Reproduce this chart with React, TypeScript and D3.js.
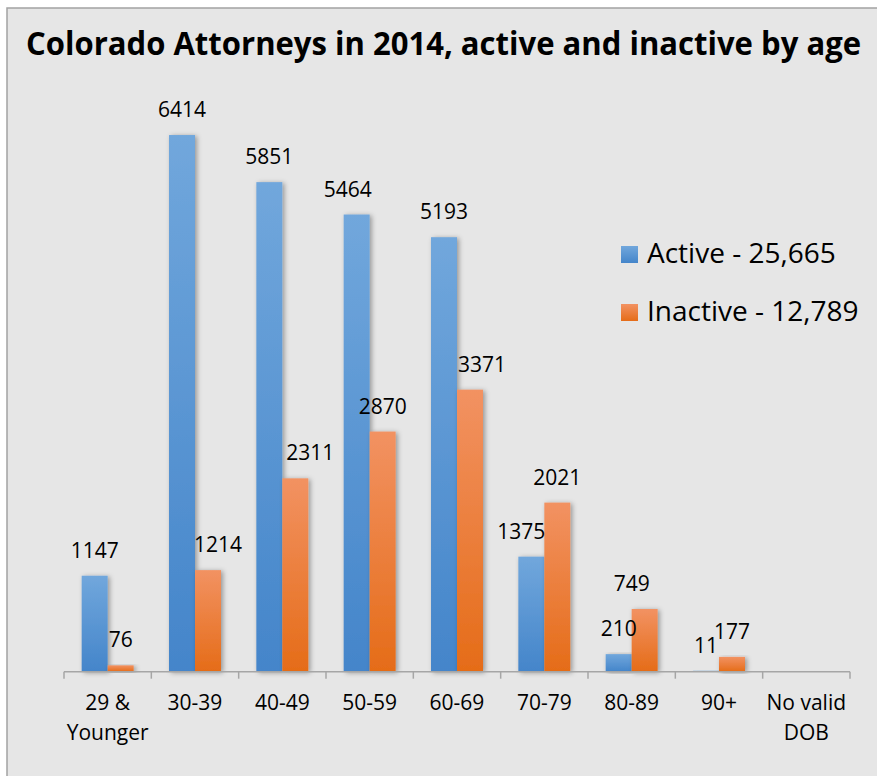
import React, { useEffect } from "react";
import * as d3 from "d3";

// chart data
const ageGroups = ["29 &\nYounger", "30-39", "40-49", "50-59", "60-69", "70-79", "80-89", "90+", "No valid\nDOB"];
const activeCounts = [1147, 6414, 5851, 5464, 5193, 1375, 210, 11, null];
const inactiveCounts = [76, 1214, 2311, 2870, 3371, 2021, 749, 177, null];
const seriesNames = ["Active - 25,665", "Inactive - 12,789"];
const chartTitle = "Colorado Attorneys in 2014, active and inactive by age";

// hand-moved data labels (as in the original sheet)
const activeLabelShift = [0, 0, 0, -9, 0, -10, 0, 0, 0];
const inactiveLabelShift = [0, 10, 15, 0, 12, 0, -13, 0, 0];

const W = 877;
const H = 776;
const font = "'Open Sans', 'Liberation Sans', sans-serif";

export default function App() {
  useEffect(() => {
    document.body.style.margin = "0";
  }, []);

  const x0 = d3.scaleBand<string>().domain(ageGroups).range([64, 850]);
  const x1 = d3
    .scaleBand<string>()
    .domain(["active", "inactive"])
    .range([0, x0.bandwidth()])
    .paddingOuter(0.68);
  const y = d3.scaleLinear().domain([0, 7000]).range([671.7, 86]);

  const series = [
    { key: "active", values: activeCounts, shift: activeLabelShift, fill: "url(#gBlue)" },
    { key: "inactive", values: inactiveCounts, shift: inactiveLabelShift, fill: "url(#gOrange)" },
  ];

  const boundaries = d3.range(ageGroups.length + 1).map((i) => 64 + i * x0.step());

  return (
    <svg width={W} height={H} style={{ position: "absolute", left: 0, top: 0, display: "block" }}>
      <defs>
        <linearGradient id="gBlue" x1="0" y1="0" x2="0" y2="1">
          <stop offset="0" stopColor="#71a7dc" />
          <stop offset="1" stopColor="#4485ca" />
        </linearGradient>
        <linearGradient id="gOrange" x1="0" y1="0" x2="0" y2="1">
          <stop offset="0" stopColor="#f29262" />
          <stop offset="1" stopColor="#e56c18" />
        </linearGradient>
        <filter id="shadow" x="-30%" y="-10%" width="160%" height="120%">
          <feDropShadow dx="2" dy="1" stdDeviation="2.5" floodColor="#000" floodOpacity="0.35" />
        </filter>
      </defs>

      <rect x={0} y={0} width={W} height={H} fill="#ffffff" />
      <rect x={7} y={8} width={W} height={H} fill="#e6e6e6" stroke="#a3a3a3" strokeWidth={1.5} />

      <text x={26} y={55} fontFamily={font} fontWeight="bold" fontSize={32} fill="#000"
        textLength={835} lengthAdjust="spacingAndGlyphs">
        {chartTitle}
      </text>

      {/* bars */}
      {series.map((s) =>
        s.values.map((v, i) =>
          v == null ? null : (
            <rect
              key={s.key + i}
              x={x0(ageGroups[i])! + x1(s.key)!}
              y={y(v)}
              width={x1.bandwidth()}
              height={y(0) - y(v)}
              fill={s.fill}
              filter="url(#shadow)"
            />
          )
        )
      )}

      {/* axis */}
      <line x1={64} x2={850} y1={y(0)} y2={y(0)} stroke="#a6a6a6" strokeWidth={1.5} />
      {boundaries.map((bx, i) => (
        <line key={i} x1={bx} x2={bx} y1={y(0)} y2={y(0) + 7} stroke="#a6a6a6" strokeWidth={1.5} />
      ))}
      {ageGroups.map((g) => (
        <text key={g} textAnchor="middle" fontFamily={font} fontSize={21} fill="#000">
          {g.split("\n").map((line, j) => (
            <tspan key={j} x={x0(g)! + x0.bandwidth() / 2} y={710 + j * 30}>
              {line}
            </tspan>
          ))}
        </text>
      ))}

      {/* value labels */}
      {series.map((s) =>
        s.values.map((v, i) =>
          v == null ? null : (
            <text
              key={"l" + s.key + i}
              x={x0(ageGroups[i])! + x1(s.key)! + x1.bandwidth() / 2 + s.shift[i]}
              y={y(v) - 18}
              textAnchor="middle"
              fontFamily={font}
              fontSize={21}
              fill="#000"
            >
              {v}
            </text>
          )
        )
      )}

      {/* legend */}
      {seriesNames.map((name, i) => (
        <g key={name} transform={`translate(621, ${246 + i * 58})`}>
          <rect width={17} height={17} fill={i === 0 ? "url(#gBlue)" : "url(#gOrange)"} />
          <text x={26} y={17} fontFamily={font} fontSize={28} fill="#000">
            {name}
          </text>
        </g>
      ))}
    </svg>
  );
}
